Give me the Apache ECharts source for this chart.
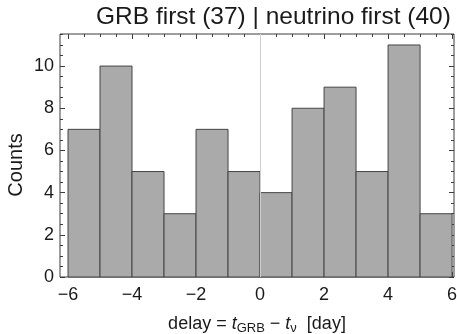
<!DOCTYPE html>
<html>
<head>
<meta charset="utf-8">
<script src="https://cdn.jsdelivr.net/npm/echarts@6/dist/echarts.min.js"></script>
<style>
  html, body { margin: 0; padding: 0; background: #fff; }
  #chart { width: 457px; height: 334px; }
</style>
</head>
<body>
<div id="chart"></div>
<script>
// histogram bins: [start, end) in days, counts per bin
const binStarts = [-6, -5, -4, -3, -2, -1, 0, 1, 2, 3, 4, 5];
const counts = [7, 10, 5, 3, 7, 5, 4, 8, 9, 5, 11, 3];
const xMajorTicks = [-6, -4, -2, 0, 2, 4, 6];
const yMajorTicks = [0, 2, 4, 6, 8, 10];
const titleText = 'GRB first (37) | neutrino first (40)';

const xMin = -6.25, xMax = 6.06;
const yMin = 0, yMax = 11.52;

let xMinorTicks = [];
for (let v = -6; v <= 6; v += 0.5) xMinorTicks.push(v);
let yMinorTicks = [];
for (let v = 0; v <= 11.5; v += 0.5) yMinorTicks.push(v);

const fontFamily = '"Liberation Sans", Arial, Helvetica, sans-serif';
const textColor = '#1a1a1a';
const frameColor = '#3c3c3c';

const histData = binStarts.map((s, i) => [s, s + 1, counts[i]]);

function minus(v) {
	return v < 0 ? '\u2212' + (-v) : String(v);
}

function makeAxis(dim, pos, ticks, len, labels) {
	let ax = {
		type: 'value',
		position: pos,
		min: dim === 'x' ? xMin : yMin,
		max: dim === 'x' ? xMax : yMax,
		axisLine: { show: false, onZero: false },
		axisTick: {
			show: true,
			inside: true,
			length: len,
			customValues: ticks,
			lineStyle: { color: frameColor, width: 1 }
		},
		axisLabel: { show: false },
		splitLine: { show: false }
	};
	if (labels) {
		ax.axisLabel = {
			show: true,
			customValues: ticks,
			formatter: minus,
			color: textColor,
			fontSize: 18,
			fontFamily: fontFamily,
			margin: dim === 'x' ? 9 : 6
		};
	}
	return ax;
}

let myChart = echarts.init(document.getElementById('chart'));

let xAxes = [
	makeAxis('x', 'bottom', xMajorTicks, 5, true),
	makeAxis('x', 'bottom', xMinorTicks, 3, false),
	makeAxis('x', 'top', xMajorTicks, 5, false),
	makeAxis('x', 'top', xMinorTicks, 3, false)
];
xAxes[0].name = '{n|delay}{n| = }{i|t}{s|GRB}{n| \u2212 }{i|t}{s|\u03bd}{n|  [day]}';
xAxes[0].nameLocation = 'middle';
xAxes[0].nameGap = 36;
xAxes[0].nameTextStyle = {
	color: textColor,
	fontFamily: fontFamily,
	rich: {
		n: { fontSize: 18, fontFamily: fontFamily, color: textColor },
		i: { fontSize: 18, fontStyle: 'italic', fontFamily: fontFamily, color: textColor },
		s: { fontSize: 13, fontFamily: fontFamily, color: textColor, padding: [9, 0, 0, 0] }
	}
};

let yAxes = [
	makeAxis('y', 'left', yMajorTicks, 5, true),
	makeAxis('y', 'left', yMinorTicks, 3, false),
	makeAxis('y', 'right', yMajorTicks, 5, false),
	makeAxis('y', 'right', yMinorTicks, 3, false)
];

let option = {
	backgroundColor: '#fff',
	animation: false,
	title: {
		text: titleText,
		left: 91,
		top: 0,
		textStyle: {
			color: textColor,
			fontFamily: fontFamily,
			fontSize: 24.5,
			fontWeight: 'normal'
		}
	},
	graphic: [
		{
			// y axis title, sits a bit below the plot middle in the original
			type: 'text',
			x: 16,
			y: 165,
			rotation: Math.PI / 2,
			style: {
				text: 'Counts',
				fill: textColor,
				font: '20px ' + fontFamily,
				textAlign: 'center',
				textVerticalAlign: 'middle'
			}
		}
	],
	grid: {
		left: 60,
		right: 3,
		top: 34,
		bottom: 57,
		outerBoundsMode: 'none',
		containLabel: false,
		show: true,
		borderColor: frameColor,
		borderWidth: 1,
		backgroundColor: 'transparent'
	},
	xAxis: xAxes,
	yAxis: yAxes,
	series: [
		{
			// vertical reference line at zero delay
			type: 'line',
			data: [],
			z: 1,
			markLine: {
				silent: true,
				symbol: 'none',
				label: { show: false },
				lineStyle: { color: '#cfcfcf', type: 'solid', width: 1 },
				data: [{ xAxis: 0 }]
			}
		},
		{
			type: 'custom',
			z: 2,
			xAxisIndex: 0,
			yAxisIndex: 0,
			data: histData,
			encode: { x: [0, 1], y: 2 },
			renderItem: function (params, api) {
				let p0 = api.coord([api.value(0), api.value(2)]);
				let p1 = api.coord([api.value(1), 0]);
				return {
					type: 'rect',
					shape: { x: p0[0], y: p0[1], width: p1[0] - p0[0], height: p1[1] - p0[1] },
					style: { fill: '#aaaaaa', stroke: '#454545', lineWidth: 1 }
				};
			}
		}
	]
};

myChart.setOption(option);
</script>
</body>
</html>
